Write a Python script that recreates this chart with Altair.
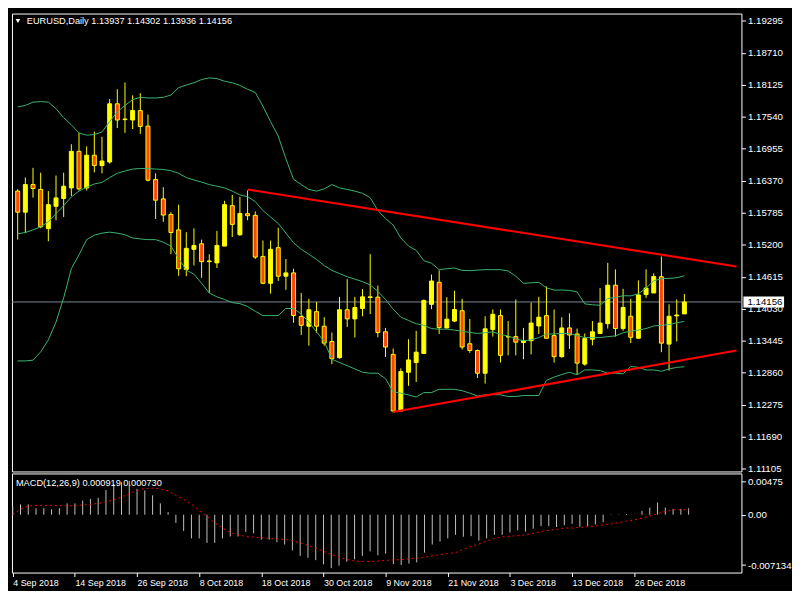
import altair as alt
import pandas as pd

# ---------------- data ----------------
bar_index = list(range(88))

open_prices = [
    1.16182, 1.15797, 1.16301, 1.16212, 1.15496, 1.15904, 1.16046, 1.16241, 1.16909, 1.16241,
    1.16838, 1.16649, 1.16714, 1.17778, 1.17489, 1.17482, 1.17654, 1.17370, 1.16395, 1.16040,
    1.15756, 1.15473, 1.14751, 1.15118, 1.15219, 1.14893, 1.14870, 1.15177, 1.15916, 1.15384,
    1.15769, 1.15739, 1.14988, 1.14497, 1.15148, 1.14627, 1.14687, 1.13889, 1.13712, 1.13978,
    1.13712, 1.13433, 1.13137, 1.14013, 1.13846, 1.14036, 1.14237, 1.14244, 1.13610, 1.13197,
    1.12162, 1.12871, 1.13048, 1.13215, 1.14112, 1.14515, 1.13681, 1.13806, 1.13995, 1.13392,
    1.13268, 1.12853, 1.13651, 1.13907, 1.13517, 1.13522, 1.13415, 1.13446, 1.13717, 1.13907,
    1.13540, 1.13155, 1.13681, 1.13570, 1.13020, 1.13474, 1.13580, 1.13758, 1.14462, 1.13669,
    1.13894, 1.13492, 1.14290, 1.14320, 1.14616, 1.13385, 1.13900, 1.13937]
high_prices = [
    1.16218, 1.16430, 1.16608, 1.16519, 1.16182, 1.16466, 1.16519, 1.17039, 1.17246, 1.16998,
    1.17269, 1.17175, 1.17867, 1.18044, 1.18168, 1.17933, 1.17973, 1.17583, 1.16507, 1.16253,
    1.15797, 1.15934, 1.15432, 1.15503, 1.15295, 1.15029, 1.15455, 1.16005, 1.16111, 1.16076,
    1.16194, 1.15810, 1.15278, 1.15278, 1.15513, 1.14941, 1.14763, 1.14320, 1.14213, 1.14155,
    1.13877, 1.13598, 1.14249, 1.14573, 1.14249, 1.14391, 1.15029, 1.14456, 1.13681, 1.13304,
    1.12942, 1.13474, 1.13628, 1.14201, 1.14657, 1.14733, 1.14244, 1.14361, 1.14213, 1.13846,
    1.13286, 1.13894, 1.14018, 1.14018, 1.13806, 1.14201, 1.13681, 1.14143, 1.14249, 1.14439,
    1.14018, 1.13877, 1.13947, 1.13669, 1.13580, 1.13806, 1.14409, 1.14870, 1.14751, 1.14396,
    1.14213, 1.14550, 1.14751, 1.14680, 1.14988, 1.14112, 1.14201, 1.14302]
low_prices = [
    1.15295, 1.15414, 1.16063, 1.15503, 1.15265, 1.15650, 1.15709, 1.16093, 1.16194, 1.16194,
    1.16524, 1.16507, 1.16684, 1.17335, 1.17246, 1.17317, 1.17228, 1.16359, 1.15673, 1.15620,
    1.15029, 1.14634, 1.14627, 1.14822, 1.14598, 1.14320, 1.14776, 1.15177, 1.15343, 1.15366,
    1.15650, 1.14941, 1.14480, 1.14307, 1.14538, 1.14378, 1.13775, 1.13552, 1.13357, 1.13593,
    1.13357, 1.13020, 1.13119, 1.13699, 1.13504, 1.13894, 1.13935, 1.13509, 1.13149, 1.12133,
    1.12162, 1.12623, 1.12694, 1.13215, 1.14024, 1.13570, 1.13669, 1.13788, 1.13286, 1.13226,
    1.12765, 1.12665, 1.13522, 1.13048, 1.13180, 1.13180, 1.13109, 1.13197, 1.13570, 1.13492,
    1.13048, 1.13137, 1.13297, 1.12825, 1.12990, 1.13362, 1.13570, 1.13669, 1.13522, 1.13628,
    1.13403, 1.13492, 1.14231, 1.14320, 1.13238, 1.12901, 1.13433, 1.13936]
close_prices = [
    1.15797, 1.16301, 1.16230, 1.15531, 1.15934, 1.16058, 1.16271, 1.16909, 1.16223, 1.16838,
    1.16649, 1.16732, 1.17778, 1.17482, 1.17500, 1.17654, 1.17365, 1.16382, 1.16017, 1.15744,
    1.15425, 1.14763, 1.15136, 1.15189, 1.14893, 1.14905, 1.15189, 1.15934, 1.15574, 1.15774,
    1.15733, 1.14976, 1.14497, 1.15118, 1.14627, 1.14687, 1.13907, 1.13729, 1.14013, 1.13712,
    1.13403, 1.13119, 1.14013, 1.13846, 1.14054, 1.14249, 1.14249, 1.13598, 1.13332, 1.12162,
    1.12883, 1.13096, 1.13238, 1.14183, 1.14538, 1.13687, 1.13841, 1.14018, 1.13332, 1.13268,
    1.12853, 1.13664, 1.13930, 1.13180, 1.13522, 1.13421, 1.13446, 1.13770, 1.13877, 1.13492,
    1.13155, 1.13681, 1.13552, 1.13038, 1.13486, 1.13610, 1.13770, 1.14462, 1.13669, 1.14054,
    1.13509, 1.14284, 1.14409, 1.14621, 1.13403, 1.13894, 1.13917, 1.14156]

bb_upper = [
    1.17720, 1.17748, 1.17808, 1.17819, 1.17808, 1.17690, 1.17525, 1.17393, 1.17246, 1.17205,
    1.17216, 1.17264, 1.17454, 1.17631, 1.17748, 1.17854, 1.17897, 1.17885, 1.17885, 1.17897,
    1.17938, 1.18074, 1.18121, 1.18163, 1.18222, 1.18252, 1.18239, 1.18191, 1.18163, 1.18115,
    1.18044, 1.17986, 1.17734, 1.17454, 1.17188, 1.16773, 1.16400, 1.16301, 1.16212, 1.16182,
    1.16223, 1.16301, 1.16241, 1.16212, 1.16182, 1.16141, 1.16063, 1.15827, 1.15680, 1.15561,
    1.15325, 1.15177, 1.15100, 1.14910, 1.14864, 1.14746, 1.14763, 1.14776, 1.14733, 1.14728,
    1.14737, 1.14746, 1.14746, 1.14746, 1.14722, 1.14627, 1.14497, 1.14506, 1.14515, 1.14414,
    1.14373, 1.14373, 1.14368, 1.14338, 1.14121, 1.14104, 1.14095, 1.14217, 1.14238, 1.14270,
    1.14267, 1.14306, 1.14409, 1.14542, 1.14581, 1.14586, 1.14598, 1.14634]
bb_middle = [
    1.15402, 1.15425, 1.15473, 1.15531, 1.15620, 1.15769, 1.15916, 1.16076, 1.16182, 1.16253,
    1.16312, 1.16342, 1.16430, 1.16507, 1.16549, 1.16585, 1.16595, 1.16595, 1.16585, 1.16578,
    1.16555, 1.16507, 1.16430, 1.16386, 1.16347, 1.16301, 1.16271, 1.16241, 1.16182, 1.16111,
    1.16081, 1.15992, 1.15827, 1.15709, 1.15591, 1.15414, 1.15237, 1.15118, 1.15029, 1.14932,
    1.14822, 1.14733, 1.14675, 1.14616, 1.14572, 1.14527, 1.14467, 1.14350, 1.14201, 1.14024,
    1.13877, 1.13818, 1.13758, 1.13729, 1.13669, 1.13658, 1.13658, 1.13641, 1.13623, 1.13598,
    1.13580, 1.13593, 1.13610, 1.13563, 1.13534, 1.13481, 1.13446, 1.13463, 1.13504, 1.13570,
    1.13570, 1.13580, 1.13580, 1.13540, 1.13504, 1.13504, 1.13504, 1.13522, 1.13534, 1.13593,
    1.13623, 1.13641, 1.13669, 1.13717, 1.13729, 1.13740, 1.13775, 1.13800]
bb_lower = [
    1.13078, 1.13078, 1.13091, 1.13243, 1.13463, 1.13788, 1.14231, 1.14763, 1.15017, 1.15295,
    1.15375, 1.15414, 1.15432, 1.15414, 1.15384, 1.15325, 1.15308, 1.15295, 1.15295, 1.15247,
    1.15177, 1.14949, 1.14740, 1.14662, 1.14497, 1.14320, 1.14249, 1.14201, 1.14143, 1.14125,
    1.14072, 1.13986, 1.13907, 1.13907, 1.13907, 1.14036, 1.14036, 1.13935, 1.13788, 1.13610,
    1.13433, 1.13109, 1.13048, 1.12990, 1.12931, 1.12871, 1.12853, 1.12853, 1.12754, 1.12516,
    1.12488, 1.12458, 1.12417, 1.12499, 1.12499, 1.12559, 1.12559, 1.12559, 1.12534, 1.12488,
    1.12436, 1.12458, 1.12463, 1.12458, 1.12428, 1.12428, 1.12445, 1.12445, 1.12445, 1.12724,
    1.12782, 1.12830, 1.12871, 1.12825, 1.12913, 1.12913, 1.12901, 1.12853, 1.12853, 1.12842,
    1.12977, 1.12960, 1.12913, 1.12913, 1.12889, 1.12931, 1.12960, 1.12972]

macd_main = [
    0.00124, 0.00147, 0.00147, 0.00092, 0.00092, 0.00078, 0.00092, 0.00161, 0.00161, 0.00202,
    0.00225, 0.00239, 0.00349, 0.00436, 0.00459, 0.00482, 0.00367, 0.00344, 0.00275, 0.00161,
    0.00037, -0.00115, -0.00230, -0.00335, -0.00335, -0.00399, -0.00399, -0.00335, -0.00308, -0.00308,
    -0.00243, -0.00262, -0.00353, -0.00353, -0.00390, -0.00422, -0.00505, -0.00583, -0.00610, -0.00643,
    -0.00702, -0.00757, -0.00721, -0.00666, -0.00633, -0.00583, -0.00519, -0.00574, -0.00551, -0.00698,
    -0.00711, -0.00693, -0.00675, -0.00537, -0.00422, -0.00381, -0.00335, -0.00285, -0.00312, -0.00303,
    -0.00367, -0.00335, -0.00285, -0.00285, -0.00252, -0.00220, -0.00239, -0.00197, -0.00161, -0.00161,
    -0.00174, -0.00147, -0.00129, -0.00170, -0.00161, -0.00138, -0.00106, 0.00005, 0.00005, 0.00010,
    -0.00002, 0.00055, 0.00101, 0.00174, 0.00101, 0.00083, 0.00083, 0.000919]
macd_signal = [
    0.00000, 0.00078, 0.00124, 0.00133, 0.00133, 0.00133, 0.00129, 0.00124, 0.00129, 0.00138,
    0.00147, 0.00161, 0.00179, 0.00211, 0.00252, 0.00298, 0.00344, 0.00372, 0.00376, 0.00367,
    0.00335, 0.00275, 0.00216, 0.00151, 0.00060, -0.00023, -0.00115, -0.00188, -0.00252, -0.00285,
    -0.00308, -0.00317, -0.00326, -0.00335, -0.00344, -0.00349, -0.00367, -0.00399, -0.00436, -0.00473,
    -0.00519, -0.00565, -0.00601, -0.00633, -0.00656, -0.00661, -0.00661, -0.00656, -0.00647, -0.00638,
    -0.00638, -0.00624, -0.00615, -0.00601, -0.00583, -0.00565, -0.00551, -0.00537, -0.00491, -0.00450,
    -0.00413, -0.00372, -0.00335, -0.00312, -0.00303, -0.00298, -0.00285, -0.00262, -0.00239, -0.00220,
    -0.00207, -0.00188, -0.00188, -0.00179, -0.00170, -0.00161, -0.00142, -0.00129, -0.00115, -0.00092,
    -0.00073, -0.00046, -0.00018, 0.00014, 0.00046, 0.00069, 0.00069, 0.00073]

date_tick_bars = [0, 8, 16, 24, 32, 40, 48, 56, 64, 72, 80]
date_tick_labels = ["4 Sep 2018", "14 Sep 2018", "26 Sep 2018", "8 Oct 2018", "18 Oct 2018",
                    "30 Oct 2018", "9 Nov 2018", "21 Nov 2018", "3 Dec 2018", "13 Dec 2018",
                    "26 Dec 2018"]
price_ticks = [1.19295, 1.18710, 1.18125, 1.17540, 1.16955, 1.16370, 1.15785, 1.15200,
               1.14615, 1.14030, 1.13445, 1.12860, 1.12275, 1.11690, 1.11105]
macd_ticks = [0.00475, 0.0, -0.007134]
macd_tick_labels = ["0.00475", "0.00", "-0.007134"]

trend_upper_bars = [30, 93.8]
trend_upper_prices = [1.16212, 1.14804]
trend_lower_bars = [48.98, 93.8]
trend_lower_prices = [1.12144, 1.13268]

bid_price = 1.14156
header_text = "EURUSD,Daily  1.13937 1.14302 1.13936 1.14156"
macd_text = "MACD(12,26,9) 0.000919 0.000730"

# ---------------- styling ----------------
W = 736
H_MAIN = 462
H_MACD = 100
FONT = "Liberation Sans"
YELLOW = "#FFFF00"
BEAR = "#FF4500"
GREEN = "#3CB371"
RED = "#FF0000"

xscale = alt.Scale(domain=[-0.1, 93.8], nice=False, zero=False)
yscale = alt.Scale(domain=[1.11057, 1.19428], nice=False, zero=False)
mscale = alt.Scale(domain=[-0.00819, 0.00585], nice=False, zero=False)

price_axis = alt.Axis(orient="right", values=price_ticks, format=".5f", title=None,
                      grid=False, domain=False, tickSize=4, tickColor="#FFFFFF",
                      labelColor="#FFFFFF", labelFont=FONT, labelFontSize=9.8,
                      labelPadding=2, labelOverlap=False)

macd_label_expr = ("datum.value > 0.001 ? '%s' : (datum.value < -0.001 ? '%s' : '%s')"
                   % (macd_tick_labels[0], macd_tick_labels[2], macd_tick_labels[1]))
macd_axis = alt.Axis(orient="right", values=macd_ticks, labelExpr=macd_label_expr, title=None,
                     grid=False, domain=False, tickSize=4, tickColor="#FFFFFF",
                     labelColor="#FFFFFF", labelFont=FONT, labelFontSize=9.8,
                     labelPadding=2, labelOverlap=False)

date_label_expr = ("[" + ",".join("'%s'" % s for s in date_tick_labels) + "][indexof(["
                   + ",".join(str(b) for b in date_tick_bars) + "], datum.value)]")
date_axis = alt.Axis(values=date_tick_bars, labelExpr=date_label_expr, title=None, grid=False,
                     domain=False, tickSize=4, tickColor="#FFFFFF", labelColor="#FFFFFF",
                     labelFont=FONT, labelFontSize=9, labelAlign="left", labelFlush=False,
                     labelPadding=2, labelOverlap=False)


def px(field):
    return alt.X(field, type="quantitative", scale=xscale, axis=None)


def py(field):
    return alt.Y(field, type="quantitative", scale=yscale, axis=price_axis)


# ---------------- main panel ----------------
candles = pd.DataFrame({"bar": bar_index, "o": open_prices, "h": high_prices,
                        "l": low_prices, "c": close_prices})
bands = pd.concat([
    pd.DataFrame({"bar": bar_index, "v": bb_upper, "band": "upper"}),
    pd.DataFrame({"bar": bar_index, "v": bb_middle, "band": "middle"}),
    pd.DataFrame({"bar": bar_index, "v": bb_lower, "band": "lower"}),
])
trends = pd.concat([
    pd.DataFrame({"bar": trend_upper_bars, "p": trend_upper_prices, "line": "upper"}),
    pd.DataFrame({"bar": trend_lower_bars, "p": trend_lower_prices, "line": "lower"}),
])
bid = pd.DataFrame({"p": [bid_price]})
header = pd.DataFrame({"t": [header_text]})

bid_line = alt.Chart(bid).mark_rule(color="#778899", strokeWidth=1, clip=True).encode(y=py("p"))

wicks = alt.Chart(candles).mark_rule(color=YELLOW, strokeWidth=1, clip=True).encode(
    x=px("bar"), y=py("l"), y2="h:Q")

bodies = alt.Chart(candles).mark_bar(size=4, stroke=YELLOW, strokeWidth=1, clip=True).encode(
    x=px("bar"), y=py("o"), y2="c:Q",
    fill=alt.condition("datum.c >= datum.o", alt.value(YELLOW), alt.value(BEAR)))

band_lines = alt.Chart(bands).mark_line(color=GREEN, strokeWidth=1, clip=True).encode(
    x=px("bar"), y=py("v"), detail="band:N")

trend_lines = alt.Chart(trends).mark_line(color=RED, strokeWidth=2.2, clip=True).encode(
    x=px("bar"), y=py("p"), detail="line:N")

price_box = alt.Chart(bid).mark_rect(color="#FFFFFF", yOffset=-5.5, y2Offset=5.5, clip=False).encode(
    x=alt.value(W + 2), x2=alt.value(W + 43), y=py("p"), y2="p:Q")
price_txt = alt.Chart(bid).mark_text(align="left", baseline="middle", color="#000000",
                                     font=FONT, fontSize=9.8, clip=False).encode(
    x=alt.value(W + 6), y=py("p"), text=alt.Text("p:Q", format=".5f"))

header_tri = alt.Chart(header).mark_point(shape="triangle-down", filled=True, color="#FFFFFF",
                                          size=22, opacity=1).encode(
    x=alt.value(6), y=alt.value(7.5))
header_txt = alt.Chart(header).mark_text(align="left", baseline="middle", color="#FFFFFF",
                                         font=FONT, fontSize=9.3).encode(
    x=alt.value(15), y=alt.value(8), text="t:N")

main = alt.layer(bid_line, wicks, bodies, band_lines, trend_lines, price_box, price_txt,
                 header_tri, header_txt).properties(width=W, height=H_MAIN)

# ---------------- MACD panel ----------------
macd_df = pd.DataFrame({"bar": bar_index, "m": macd_main, "s": macd_signal})
mtext = pd.DataFrame({"t": [macd_text]})

hist = alt.Chart(macd_df).mark_rule(color="#C0C0C0", strokeWidth=1, clip=True).encode(
    x=alt.X("bar:Q", scale=xscale, axis=date_axis),
    y=alt.Y("m:Q", scale=mscale, axis=macd_axis),
    y2=alt.datum(0))
signal = alt.Chart(macd_df).mark_line(color=RED, strokeWidth=1, strokeDash=[2, 3], clip=True).encode(
    x=alt.X("bar:Q", scale=xscale, axis=date_axis),
    y=alt.Y("s:Q", scale=mscale, axis=macd_axis))
macd_label = alt.Chart(mtext).mark_text(align="left", baseline="middle", color="#FFFFFF",
                                        font=FONT, fontSize=9.3).encode(
    x=alt.value(4), y=alt.value(10), text="t:N")

macd = alt.layer(hist, signal, macd_label).properties(width=W, height=H_MACD)

chart = alt.vconcat(main, macd, spacing=2, bounds="flush").properties(
    background="#000000",
    padding={"left": 3, "top": 2, "right": 0, "bottom": 0},
).configure_view(stroke="#FFFFFF", strokeWidth=1, fill="#000000")

chart.save("out.html", embed_options={"renderer": "svg", "actions": False})
